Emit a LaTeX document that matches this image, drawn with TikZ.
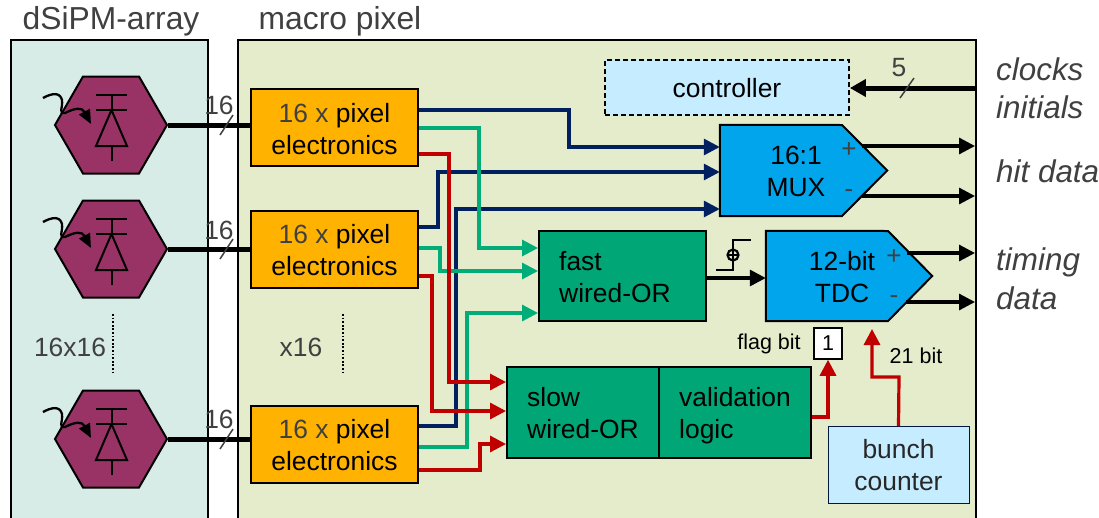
\documentclass[tikz,border=0pt]{standalone}
\usepackage{fontspec}
\setmainfont{Liberation Sans}
\usetikzlibrary{shapes.geometric,arrows.meta,calc}
\definecolor{panelb}{HTML}{D7EBE7}
\definecolor{panelg}{HTML}{E4ECCC}
\definecolor{maroon}{HTML}{993366}
\definecolor{orangeb}{HTML}{FFB300}
\definecolor{greenb}{HTML}{00A676}
\definecolor{blueb}{HTML}{00A5EC}
\definecolor{lightb}{HTML}{C6ECFF}
\definecolor{navy}{HTML}{002060}
\definecolor{teal}{HTML}{00AD78}
\definecolor{redl}{HTML}{C00000}
\definecolor{greytxt}{HTML}{404040}
\tikzset{
  x=1pt,y=-1pt,
  txt/.style={inner sep=0pt,align=center,font=\fontsize{26.4}{32}\selectfont},
  ltxt/.style={inner sep=0pt,align=left,font=\fontsize{26.4}{32}\selectfont},
  gtxt/.style={txt,text=greytxt},
  htxt/.style={inner sep=0pt,text=greytxt,font=\fontsize{31.8}{36}\selectfont},
  itxt/.style={inner sep=0pt,anchor=west,text=greytxt,font=\fontsize{31.4}{36}\selectfont\itshape},
  stxt/.style={inner sep=0pt,font=\fontsize{21.5}{24}\selectfont},
  numtxt/.style={inner sep=0pt,text=greytxt,font=\fontsize{26.4}{30}\selectfont},
  pmtxt/.style={inner sep=0pt,text=greytxt,font=\fontsize{26}{28}\selectfont},
  panelbox/.style={draw=black,line width=1.6pt,anchor=north west,inner sep=0pt},
  hexa/.style={regular polygon,regular polygon sides=6,minimum size=112pt,inner sep=0pt,draw=black,line width=2pt,fill=maroon},
  pebox/.style={draw=black,line width=2pt,fill=orangeb,inner sep=0pt,minimum width=167pt,minimum height=77pt},
  orbox/.style={draw=black,line width=2pt,fill=greenb,inner sep=0pt},
  ghost/.style={inner sep=0pt},
  shapeline/.style={draw=black,line width=2pt,line join=miter},
  tip/.style={-{Triangle[length=16pt,width=16pt]}},
  bus/.style={draw=black,line width=5pt},
  sig/.style={draw=black,line width=3.2pt,tip},
  nav/.style={draw=navy,line width=3.2pt,tip},
  tea/.style={draw=teal,line width=3.2pt,tip},
  rdl/.style={draw=redl,line width=3.2pt,tip},
  slash/.style={draw=greytxt,line width=1.5pt},
  dots/.style={draw=black,line width=2pt,dash pattern=on 1.8pt off 1.8pt},
}
\begin{document}
\begin{tikzpicture}
\path[use as bounding box] (0,0) rectangle (1099,517);
\clip (0,0) rectangle (1099,517);
\fill[white] (0,0) rectangle (1099,517);
% panels
\node[panelbox,fill=panelb,minimum width=197pt,minimum height=490pt] (arr) at (10,39) {};
\node[panelbox,fill=panelg,minimum width=738pt,minimum height=490pt] (mac) at (237,39) {};
\node[htxt] (tarr) at (111,21) {dSiPM-array};
\node[htxt] (tmac) at (340,21) {macro pixel};
% hexagons
\foreach \n/\yy in {1/125,2/249,3/439}{
  \node[hexa] (hex\n) at (111,\yy) {};
  \begin{scope}[shift={(111,\yy)}]
    \draw[black,line width=2pt] (-15,-30) -- (16,-30) (-15,-15) -- (16,-15) (0.5,-30) -- (0.5,-15);
    \draw[black,line width=2pt,line join=miter] (0.5,-15) -- (16,21) -- (-15,21) -- cycle;
    \draw[black,line width=2pt] (0.5,21) -- (0.5,36);
    \draw[black,line width=2.3pt,-{Triangle[length=14pt,width=12pt]}]
      (-68,-27) .. controls (-59,-32) and (-51,-33) .. (-49,-25)
      .. controls (-48,-17) and (-53,-11) .. (-46,-12)
      .. controls (-36,-17) and (-29,-18) .. (-20,-1);
  \end{scope}
}
% pixel electronics
\node[pebox] (pe1) at (334.5,127.5) {};
\node[pebox] (pe2) at (334.5,249) {};
\node[pebox] (pe3) at (334.5,444) {};
\node[txt] (tpe1) at (334.5,129) {\textcolor{greytxt}{16 x} pixel\\electronics};
\node[txt] (tpe2) at (334.5,250.5) {\textcolor{greytxt}{16 x} pixel\\electronics};
\node[txt] (tpe3) at (334.5,445.5) {\textcolor{greytxt}{16 x} pixel\\electronics};
% busses
\foreach \n/\yy/\ly in {1/125/105,2/249/230,3/439/419}{
  \draw[bus] (hex\n.east) -- (pe\n.west |- hex\n.east);
  \draw[slash] (220,\yy+10) -- (233,\yy-10);
  \node[numtxt] (num\n) at (219,\ly) {16};
}
% logic blocks
\node[orbox,minimum width=167pt,minimum height=90pt] (fast) at (622.5,276) {};
\node[ltxt,anchor=west] (tfast) at (559,277.5) {fast\\wired-OR};
\node[orbox,minimum width=152pt,minimum height=91pt] (slow) at (583,412.5) {};
\node[orbox,minimum width=152pt,minimum height=91pt] (valid) at (735,412.5) {};
\node[ltxt,anchor=west] (tslow) at (527,413.5) {slow\\wired-OR};
\node[ltxt,anchor=west] (tvalid) at (679,416) {validation\\logic};
% MUX
\node[ghost,minimum width=167pt,minimum height=91pt] (mux) at (803.5,170.5) {};
\draw[shapeline,fill=blueb] (mux.north west) -- (842,125) -- (mux.east) -- (842,216) -- (mux.south west) -- cycle;
\node[txt] (tmux) at (796,171) {16:1\\MUX};
\node[pmtxt] (mp) at (849,150) {+};
\node[pmtxt] (mm) at (849,194) {-};
% TDC
\node[ghost,minimum width=166pt,minimum height=90pt] (tdc) at (849,276) {};
\draw[shapeline,fill=blueb] (tdc.north west) -- (888,231) -- (tdc.east) -- (888,321) -- (tdc.south west) -- cycle;
\node[txt] (ttdc) at (842,277) {12-bit\\TDC};
\node[pmtxt] (tp) at (894,257) {+};
\node[pmtxt] (tm) at (894,300) {-};
% controller
\node[draw=black,line width=1.8pt,dash pattern=on 5pt off 3pt,fill=lightb,inner sep=0pt,minimum width=244pt,minimum height=55pt] (ctrl) at (727,87.5) {};
\node[txt] (tctrl) at (727,88.5) {controller};
% bunch counter
\node[draw=navy!70!black,line width=1pt,fill=lightb,inner sep=0pt,minimum width=141pt,minimum height=77pt] (bunch) at (898.5,464.5) {};
\node[txt,text=greytxt!60!black] (tbunch) at (898.5,465.5) {bunch\\counter};
% flag
\node[draw=black,line width=1.5pt,fill=white,inner sep=0pt,minimum width=28pt,minimum height=31pt,font=\fontsize{21.5}{24}\selectfont] (flag) at (828,343.5) {1};
\node[stxt] (tflag) at (769,344) {flag bit};
\node[stxt] (t21) at (916,356) {21 bit};
% navy connectors
\draw[nav] (pe1.east |- 0,110) -- (569,110) -- (569,147) -- (mux.west |- 0,147);
\draw[nav] (pe2.east |- 0,227) -- (438,227) -- (438,172) -- (mux.west |- 0,172);
\draw[nav] (pe3.east |- 0,426) -- (456,426) -- (456,209) -- (mux.west |- 0,209);
% teal connectors
\draw[tea] (pe1.east |- 0,128) -- (479,128) -- (479,248) -- (fast.west |- 0,248);
\draw[tea] (pe2.east |- 0,248) -- (440,248) -- (440,271) -- (fast.west |- 0,271);
\draw[tea] (pe3.east |- 0,447) -- (467,447) -- (467,313) -- (fast.west |- 0,313);
% red connectors
\draw[rdl] (pe1.east |- 0,154) -- (449,154) -- (449,382) -- (slow.west |- 0,382);
\draw[rdl] (pe2.east |- 0,276) -- (432,276) -- (432,411) -- (slow.west |- 0,411);
\draw[rdl] (pe3.east |- 0,470) -- (480,470) -- (480,444) -- (slow.west |- 0,444);
\draw[rdl] (valid.east |- 0,417) -- (828,417) -- (flag.south);
\coordinate (tdcin) at (872,329);
\draw[rdl] (bunch.north |- 0,426) -- (899,377) -- (872,377) -- (tdcin);
% black signals
\coordinate (o1) at (975,146);
\coordinate (o2) at (975,196);
\coordinate (o3) at (975,253);
\coordinate (o4) at (975,302);
\coordinate (oc) at (975,88);
\draw[sig] (862,146) -- (o1);
\draw[sig] (862,196) -- (o2);
\draw[sig] (907,253) -- (o3);
\draw[sig] (906,302) -- (o4);
\draw[sig] (fast.east |- 0,278) -- (tdc.west |- 0,278);
\draw[line width=5pt,draw=black,-{Triangle[length=16pt,width=17pt]}] (oc) -- (ctrl.east |- oc);
\draw[slash] (900,98) -- (914,78);
\node[numtxt] (num5) at (899,68) {5};
% step symbol
\draw[black,line width=2.4pt] (716,270) -- (733,270) -- (733,240) -- (751,240);
\draw[black,line width=2.2pt] (733,255) circle (5.5);
\draw[black,line width=1.5pt] (727.5,255) -- (738.5,255);
% dots + labels
\node[gtxt] (t16x) at (70,347) {16x16};
\node[gtxt] (tx16) at (301,347) {x16};
\draw[dots] (113,314) -- (113,372);
\draw[dots] (343,314) -- (343,372);
% right labels
\node[itxt] (c1) at (996,69) {clocks};
\node[itxt] (c2) at (996,107) {initials};
\node[itxt] (c3) at (996,171) {hit data};
\node[itxt] (c4) at (996,262) {timing};
\node[itxt] (c5) at (996,298) {data};
\end{tikzpicture}
\end{document}
